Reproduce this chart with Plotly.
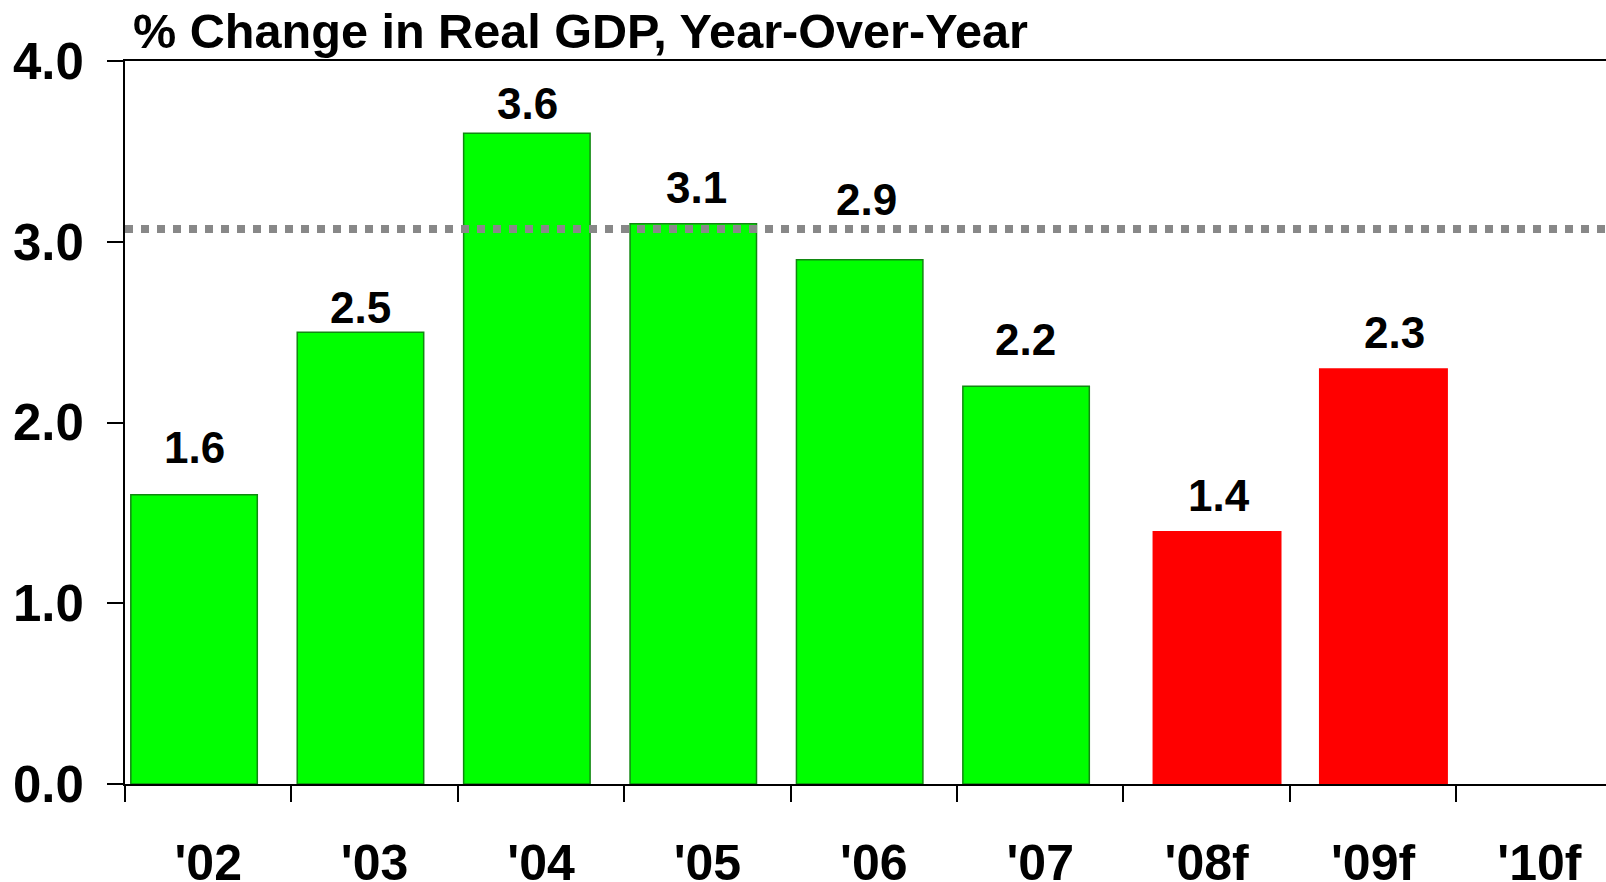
import plotly.graph_objects as go

categories = ["'02", "'03", "'04", "'05", "'06", "'07", "'08f", "'09f", "'10f"]
actual_years = ["'02", "'03", "'04", "'05", "'06", "'07"]
actual_values = [1.6, 2.5, 3.6, 3.1, 2.9, 2.2]
forecast_years = ["'08f", "'09f"]
forecast_values = [1.4, 2.3]
average_level = 3.07
y_ticks = [0, 1, 2, 3, 4]
title_text = "% Change in Real GDP, Year-Over-Year"

# label placement tweaks (pixels): horizontal shift from category centre, gap above bar top
label_dx = [-13.5, -13.8, -13.5, -11.1, -7.0, -14.4, 12.1, 21.5]
label_gap = [31, 8, 13, 20, 44, 30, 19, 19]

FONT = "Liberation Sans, Arial, Helvetica, sans-serif"
DESCENT = 10  # approx. pixels from baseline to bottom of the annotation box

fig = go.Figure()
fig.add_trace(go.Bar(
    x=actual_years, y=actual_values,
    marker=dict(color="#00FF00", line=dict(color="#118811", width=1.5)),
    width=0.76, offset=-0.465, showlegend=False, hoverinfo="x+y",
))
fig.add_trace(go.Bar(
    x=forecast_years, y=forecast_values,
    marker=dict(color="#FF0000", line=dict(color="#FF0000", width=0)),
    width=0.775, offset=-0.325, showlegend=False, hoverinfo="x+y",
))

label_x = actual_years + forecast_years
label_y = actual_values + forecast_values
for x, y, dx, gap in zip(label_x, label_y, label_dx, label_gap):
    fig.add_annotation(
        x=x, y=y, xref="x", yref="y", text=f"{y:.1f}", showarrow=False,
        xanchor="center", yanchor="bottom", xshift=dx, yshift=gap - DESCENT,
        font=dict(family=FONT, size=44, color="black", weight="bold"),
    )

fig.add_shape(type="line", xref="paper", x0=0, x1=1, yref="y",
              y0=average_level, y1=average_level,
              line=dict(color="#888888", width=8, dash="dot"), layer="above")

fig.add_annotation(text=title_text, xref="paper", yref="paper", x=0.004, y=1,
                   xanchor="left", yanchor="bottom", showarrow=False, yshift=1,
                   font=dict(family=FONT, size=48.6, color="black", weight="bold"))

fig.update_layout(
    width=1606, height=882,
    margin=dict(l=125, r=0, t=61, b=98, autoexpand=False),
    paper_bgcolor="white", plot_bgcolor="white",
    barmode="overlay",
    font=dict(family=FONT, color="black"),
    xaxis=dict(
        type="category", categoryorder="array", categoryarray=categories,
        range=[-0.5, 8.40], tickson="boundaries", ticks="outside", ticklen=16,
        tickwidth=2, tickcolor="black", showline=True, linecolor="black",
        linewidth=2, mirror=True, showgrid=False, zeroline=False,
        tickfont=dict(family=FONT, size=50, color="black", weight="bold"),
        ticklabelstandoff=34, automargin=False,
    ),
    yaxis=dict(
        range=[0, 4], tickvals=y_ticks, tickformat=".1f", ticks="outside",
        ticklen=16, tickwidth=2, tickcolor="black", showline=True,
        linecolor="black", linewidth=2, showgrid=False, zeroline=False,
        tickfont=dict(family=FONT, size=51, color="black", weight="bold"),
        ticklabelstandoff=13, automargin=False,
    ),
)

fig.write_html(
    "out.html",
    config={"displayModeBar": False},
    post_script="document.body.style.margin='0px';document.body.style.overflow='hidden';",
)
